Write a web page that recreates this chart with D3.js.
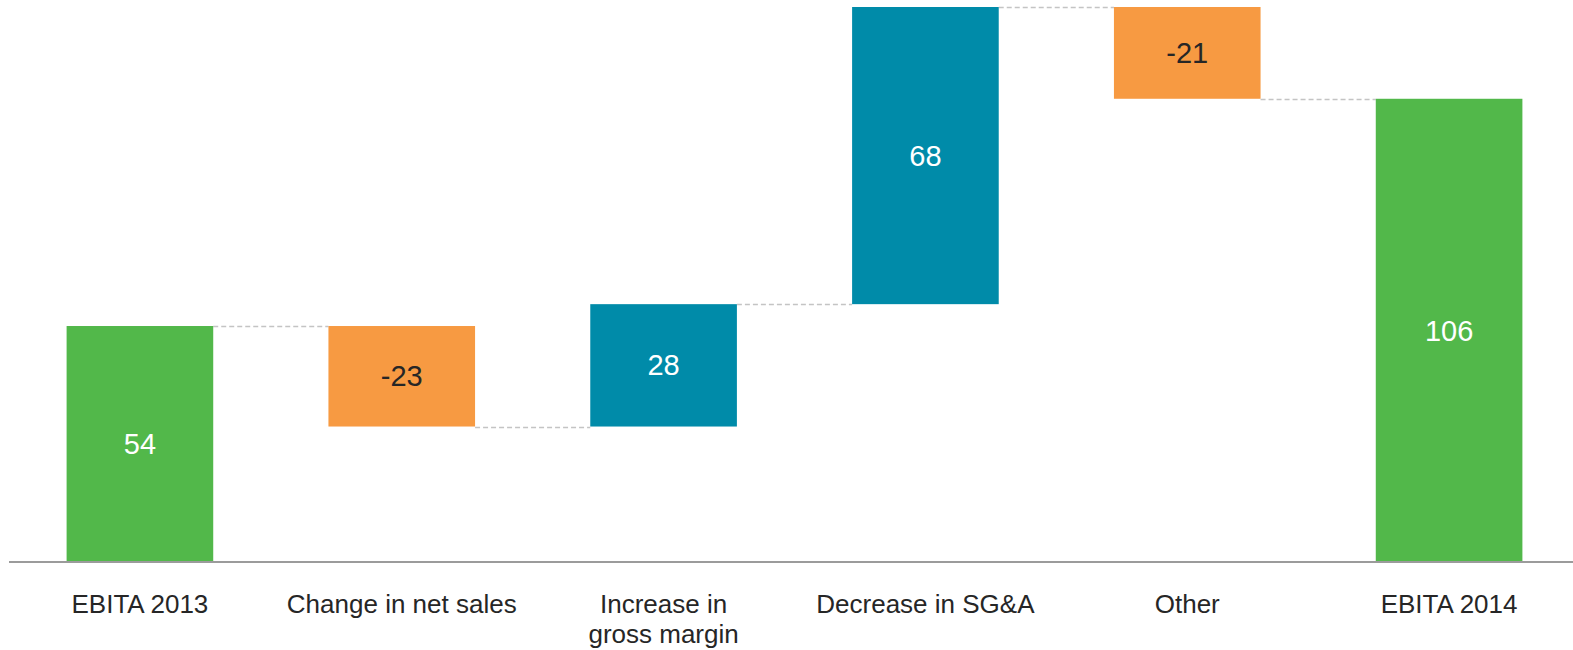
<!DOCTYPE html>
<html><head><meta charset="utf-8">
<script src="https://cdn.jsdelivr.net/npm/d3@7"></script>
<style>html,body{margin:0;padding:0;background:#fff;}svg{display:block;font-family:"Liberation Sans",Arial,sans-serif;}</style>
</head><body>
<svg id="c" width="1573" height="650"></svg>
<script>
const categories = ["EBITA 2013", "Change in net sales", "Increase in\ngross margin", "Decrease in SG&A", "Other", "EBITA 2014"];
const values = [54, -23, 28, 68, -21, 106];
const kinds = ["total", "delta", "delta", "delta", "delta", "total"];
const valueLabels = ["54", "-23", "28", "68", "-21", "106"];

const colors = {total: "#52b84a", neg: "#f79a42", pos: "#008ba9"};

// compute waterfall segments
let running = 0;
const rows = categories.map((c, i) => {
  let y0, y1;
  if (kinds[i] === "total") { y0 = 0; y1 = values[i]; running = values[i]; }
  else { y0 = running; y1 = running + values[i]; running = y1; }
  const type = kinds[i] === "total" ? "total" : (values[i] < 0 ? "neg" : "pos");
  return {cat: c, i, y0, y1, end: running, type, label: valueLabels[i]};
});

const svg = d3.select("#c");
const baseY = 562;
const x = d3.scaleBand().domain(categories).range([9, 1580]).paddingInner(0.44).paddingOuter(0.22);
const y = d3.scaleLinear().domain([0, 127]).range([baseY, 7]);

// connectors
const conn = rows.slice(0, -1).map((r, k) => ({x1: x(r.cat) + x.bandwidth(), x2: x(rows[k+1].cat), v: r.end}));
svg.append("g").selectAll("line").data(conn).join("line")
  .attr("x1", d => d.x1).attr("x2", d => d.x2)
  .attr("y1", d => Math.round(y(d.v)) + 0.5).attr("y2", d => Math.round(y(d.v)) + 0.5)
  .attr("stroke", "#c4c4c4").attr("stroke-width", 1.5).attr("stroke-dasharray", "5,3");

// bars
svg.append("g").selectAll("rect").data(rows).join("rect")
  .attr("x", d => x(d.cat)).attr("width", x.bandwidth())
  .attr("y", d => y(Math.max(d.y0, d.y1)))
  .attr("height", d => Math.abs(y(d.y0) - y(d.y1)))
  .attr("fill", d => colors[d.type]);

// value labels
svg.append("g").selectAll("text").data(rows).join("text")
  .attr("x", d => x(d.cat) + x.bandwidth() / 2)
  .attr("y", d => (y(d.y0) + y(d.y1)) / 2)
  .attr("dy", "0.35em")
  .attr("text-anchor", "middle")
  .attr("font-size", 29)
  .attr("fill", d => d.type === "neg" ? "#262626" : "#ffffff")
  .text(d => d.label);

// axis
const axis = svg.append("g").attr("transform", `translate(0,${baseY})`)
  .call(d3.axisBottom(x).tickSize(0).tickPadding(0).tickFormat(() => ""));
axis.select(".domain").remove();
axis.append("line").attr("x1", 9).attr("x2", 1573).attr("y1", 0).attr("y2", 0)
  .attr("stroke", "#9b9b9b").attr("stroke-width", 2);
axis.selectAll(".tick text").remove();
axis.selectAll(".tick").each(function(d) {
  const lines = d.split("\n");
  const t = d3.select(this).append("text")
    .attr("fill", "#262626").attr("font-size", 26).attr("text-anchor", "middle")
    .attr("font-family", '"Liberation Sans",Arial,sans-serif');
  lines.forEach((l, k) => t.append("tspan").attr("x", 0).attr("y", 51 + k * 30).text(l));
});
</script>
</body></html>
